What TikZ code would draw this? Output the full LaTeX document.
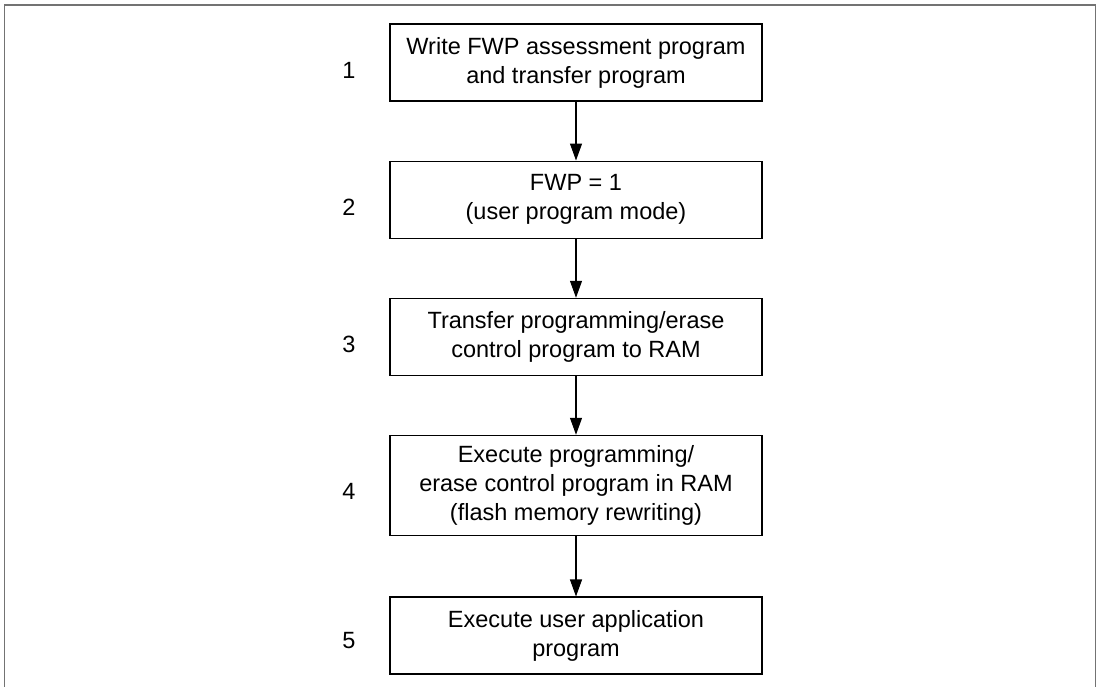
\documentclass[tikz,border=0pt]{standalone}
\usepackage{fontspec}
\setmainfont{Liberation Sans}
\usetikzlibrary{arrows.meta}
\tikzset{
  stepbox/.style={draw=black, line width=1.1pt, minimum width=372pt, align=center, inner sep=0pt, font=\fontsize{23.5}{29}\selectfont},
  numlabel/.style={font=\fontsize{23.5}{29}\selectfont, inner sep=0pt},
  flow/.style={draw=black, line width=1.1pt, -{Triangle[width=12pt,length=17pt]}},
  frame/.style={draw=black!55, line width=1.8pt}
}
\begin{document}
\begin{tikzpicture}[x=1pt,y=1pt]
\useasboundingbox (0,0) rectangle (1100,-686);
\fill[white] (0,0) rectangle (1100,-686);
\coordinate (f1) at (4.5,-690);
\coordinate (f2) at (4.5,-5);
\coordinate (f3) at (1095.5,-5);
\coordinate (f4) at (1095.5,-690);
\draw[frame] (f1) -- (f2) -- (f3) -- (f4);

\node[stepbox, minimum height=77pt] (b1) at (576,-62.5) {Write FWP assessment program\\and transfer program};
\node[stepbox, minimum height=77.5pt] (b2) at (576,-199.8) {FWP = 1\\(user program mode)};
\node[stepbox, minimum height=77pt] (b3) at (576,-336.8) {Transfer programming/erase\\control program to RAM};
\node[stepbox, minimum height=100.4pt] (b4) at (576,-485.5) {Execute programming/\\erase control program in RAM\\(flash memory rewriting)};
\node[stepbox, minimum height=77pt] (b5) at (576,-635.5) {Execute user application\\program};

\node[numlabel] (n1) at (349,-70) {1};
\node[numlabel] (n2) at (349,-207) {2};
\node[numlabel] (n3) at (349,-344) {3};
\node[numlabel] (n4) at (349,-491) {4};
\node[numlabel] (n5) at (349,-641) {5};

\draw[flow] (b1) -- (b2);
\draw[flow] (b2) -- (b3);
\draw[flow] (b3) -- (b4);
\draw[flow] (b4) -- (b5);
\end{tikzpicture}
\end{document}
